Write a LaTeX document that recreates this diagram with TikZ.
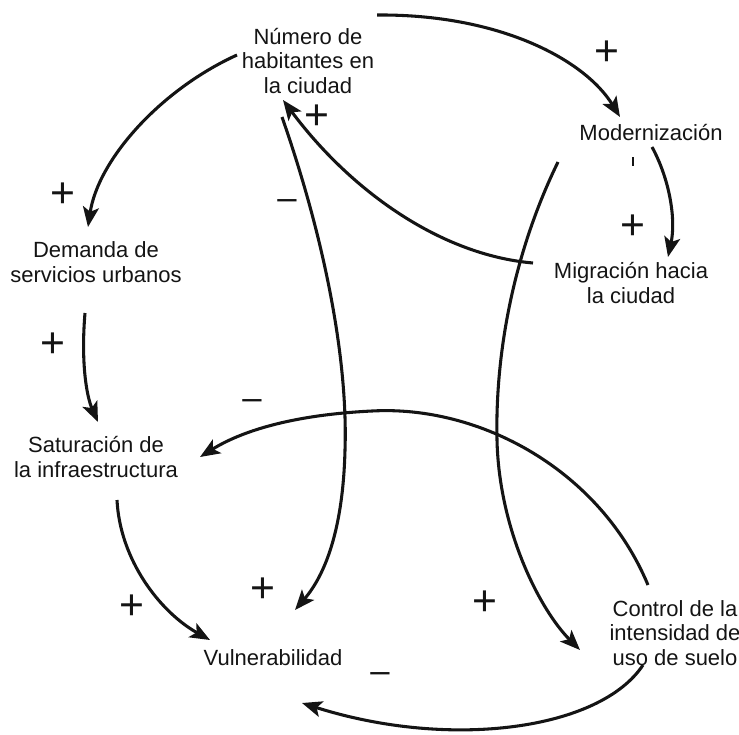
\documentclass[tikz,border=0pt]{standalone}
\usepackage{fontspec}
\setmainfont{Liberation Sans}
\usetikzlibrary{arrows.meta}
\definecolor{ink}{rgb}{0.08,0.08,0.08}
\begin{document}
\begin{tikzpicture}[x=0.75pt,y=-0.75pt,
  var/.style={font=\fontsize{16.5}{18.3}\selectfont, align=center, inner sep=0pt, text=ink},
  plus/.style={font=\fontsize{32}{32}\selectfont, inner sep=0pt, text=ink},
  minus/.style={font=\fontsize{26}{26}\selectfont, inner sep=0pt, text=ink},
  link/.style={draw=ink, line width=2.3pt, -{Stealth[length=15pt,width=12pt,inset=3.5pt]}},
  tickmark/.style={draw=ink, line width=2.2pt}]
\useasboundingbox (0,0) rectangle (739,735);

% variables
\node[var] (num) at (308,61) {Número de\\habitantes en\\la ciudad};
\node[var] (mod) at (651,133) {Modernización};
\node[var] (mig) at (631,283) {Migración hacia\\la ciudad};
\node[var] (dem) at (96,262) {Demanda de\\servicios urbanos};
\node[var] (sat) at (96,457) {Saturación de\\la infraestructura};
\node[var] (vul) at (273,658) {Vulnerabilidad};
\node[var] (con) at (675,633) {Control de la\\intensidad de\\uso de suelo};

% connector ends
\coordinate (numR) at (377,15);   \coordinate (modT) at (620,117);
\coordinate (numL) at (237,55);   \coordinate (demT) at (88,227);
\coordinate (demB) at (85,313);   \coordinate (satT) at (98,422);
\coordinate (satB) at (117,500);  \coordinate (vulL) at (210,640);
\coordinate (numB) at (282,117);  \coordinate (vulT) at (295,610);
\coordinate (migL) at (533,263);  \coordinate (numA) at (283,100);
\coordinate (modB) at (558,162);  \coordinate (conT) at (580,650);
\coordinate (conU) at (648,585);  \coordinate (satR) at (200,457);
\coordinate (conL) at (643,665);  \coordinate (vulB) at (302,703);
\coordinate (modR) at (652,147);  \coordinate (migT) at (668,257);

% connectors
\draw[link] (numR) .. controls (500,14) and (585,60) .. (modT);
\draw[link] (numL) .. controls (160,90) and (98,160) .. (demT);
\draw[link] (demB) .. controls (81,360) and (86,395) .. (satT);
\draw[link] (satB) .. controls (120,560) and (160,612) .. (vulL);
\draw[link] (numB) .. controls (325,240) and (348,360) .. (345,450)
                   .. controls (343,530) and (325,575) .. (vulT);
\draw[link] (migL) .. controls (440,255) and (350,190) .. (numA);
\draw[link] (modB) .. controls (515,250) and (495,350) .. (497,440)
                   .. controls (499,530) and (540,610) .. (conT);
\draw[link] (conU) .. controls (600,470) and (480,405) .. (372,411)
                   .. controls (290,415) and (240,432) .. (satR);
\draw[link] (conL) .. controls (600,730) and (450,750) .. (vulB);
\draw[link] (modR) .. controls (670,180) and (676,220) .. (migT);

% polarity signs
\node[plus] (s1) at (607,53) {+};
\node[plus] (s2) at (63,195) {+};
\node[plus] (s3) at (53,345) {+};
\node[minus] (s4) at (252,405) {–};
\node[minus] (s5) at (287,205) {–};
\node[plus] (s6) at (317,117) {+};
\node[plus] (s7) at (633,227) {+};
\node[plus] (s8) at (132,607) {+};
\node[plus] (s9) at (263,590) {+};
\node[plus] (s10) at (485,603) {+};
\node[minus] (s11) at (380,678) {–};
\draw[tickmark] (633,157) -- (633,166);
\end{tikzpicture}
\end{document}
